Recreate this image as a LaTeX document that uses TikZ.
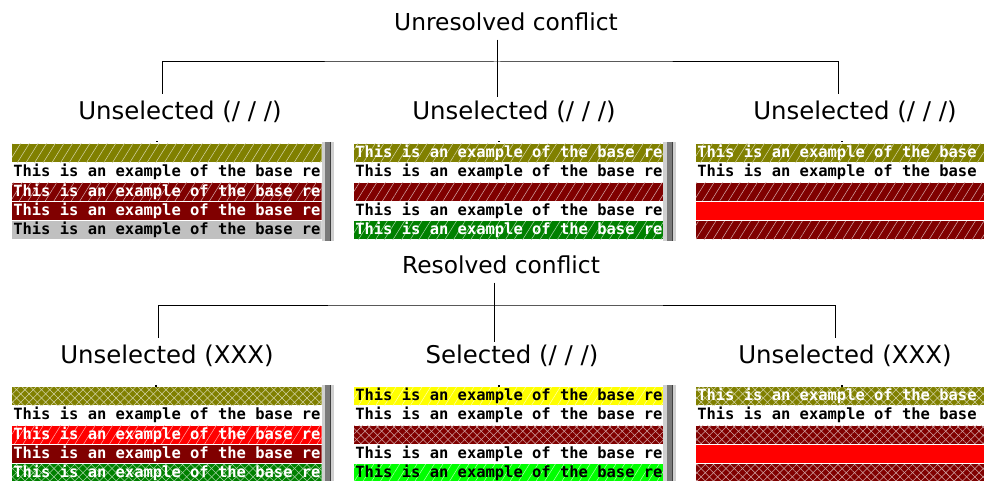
\documentclass[tikz,border=0pt]{standalone}
\usepackage{fontspec}
\setmainfont{DejaVu Sans}
\newfontfamily\rowmono{DejaVu Sans Mono}
\usetikzlibrary{patterns.meta,positioning}
\definecolor{rowolive}{HTML}{808000}
\definecolor{rowmaroon}{HTML}{800000}
\definecolor{rowgreen}{HTML}{008000}
\definecolor{rowgray}{HTML}{C0C0C0}
\definecolor{rowred}{HTML}{FF0000}
\definecolor{rowyellow}{HTML}{FFFF00}
\definecolor{rowlime}{HTML}{00FF00}
\definecolor{barlight}{HTML}{D0D0D0}
\definecolor{bardark}{HTML}{7A7A7A}
\newcommand\baserow{This is an example of the base re}
\newcommand\blankrow{}
\tikzset{
  treehead/.style={font=\fontsize{17.5}{20}\selectfont, text=black,
    inner sep=0pt, outer ysep=6.5pt},
  treelabel/.style={font=\fontsize{18.3}{21}\selectfont, text=black, inner sep=0pt},
  treeline/.style={draw=black, line width=.75pt},
  rowtext/.style={font=\rowmono\bfseries\fontsize{11.6}{13}\selectfont,
    anchor=west, inner sep=0pt},
  linesrow/.style={fill=#1, postaction={pattern={Lines[angle=58,distance=5.5pt,line width=.4pt]},
    pattern color=white!65!#1}},
  crossrow/.style={fill=#1,
    postaction={pattern={Lines[angle=45,distance=4.4pt,line width=.4pt]}, pattern color=white!65!#1},
    postaction={pattern={Lines[angle=-45,distance=4.4pt,line width=.4pt]}, pattern color=white!65!#1}},
  plainrow/.style={fill=white},
  olivelines/.style={linesrow=rowolive},
  olivecross/.style={crossrow=rowolive},
  maroonlines/.style={linesrow=rowmaroon},
  marooncross/.style={crossrow=rowmaroon},
  maroonrow/.style={fill=rowmaroon},
  grayrow/.style={fill=rowgray},
  redrow/.style={fill=rowred},
  redlines/.style={linesrow=rowred},
  greenlines/.style={linesrow=rowgreen},
  greencross/.style={crossrow=rowgreen},
  yellowlines/.style={linesrow=rowyellow},
  limelines/.style={linesrow=rowlime}
}
% one screen strip: name, left, top, right, rows
\newcommand\conflictrows[5]{%
  \begin{scope}
    \clip (#2,#3) rectangle (#4,#3+97);
    \foreach \rowfill/\rowink/\rowline [count=\r from 0] in {#5} {
      \path[\rowfill] (#2,#3+19.3*\r) rectangle (#4,#3+18+19.3*\r);
      \node[rowtext, text=\rowink] (#1\r) at (#2+1,#3+9+19.3*\r) {\rowline};
    }
  \end{scope}}
\newcommand\scrollbar[2]{%
  \fill[barlight] (#1,#2-2) rectangle ++(12.5,99);
  \fill[bardark] (#1+3.5,#2-2) rectangle ++(6,99);
  \draw[black!75, line width=.75pt] (#1+9,#2-2) -- ++(0,99);}

\begin{document}
\begin{tikzpicture}[x=.75pt,y=-.75pt]
  \useasboundingbox (0,0) rectangle (984,481);

  % unresolved conflict
  \node[treehead] (unres) at (506,22) {Unresolved conflict};
  \node[treelabel] (unsel1) at (180,112) {Unselected (/ / /)};
  \node[treelabel] (unsel2) at (514,112) {Unselected (/ / /)};
  \node[treelabel] (unsel3) at (855,112) {Unselected (/ / /)};
  \coordinate (unbar) at (497,62);
  \coordinate (unend1) at (162,94);
  \coordinate (unend2) at (497,97);
  \coordinate (unend3) at (838,94);
  \draw[treeline] (unres.south -| unend2) -- (unend2);
  \draw[treeline] (unend1) |- (unbar) -| (unend3);

  \conflictrows{ua}{12}{144}{321.5}{olivelines/white/\blankrow, plainrow/black/\baserow,
    maroonlines/white/\baserow, maroonrow/white/\baserow, grayrow/black/\baserow}
  \conflictrows{ub}{354}{144}{663}{olivelines/white/\baserow, plainrow/black/\baserow,
    maroonlines/white/\blankrow, plainrow/black/\baserow, greenlines/white/\baserow}
  \conflictrows{uc}{696}{144}{984}{olivelines/white/\baserow, plainrow/black/\baserow,
    maroonlines/white/\blankrow, redrow/white/\blankrow, maroonlines/white/\blankrow}
  \scrollbar{321.5}{144}
  \scrollbar{663}{144}
  \foreach \x in {157,499,842} \fill (\x-1,141) rectangle ++(2,1.5);

  % resolved conflict
  \node[treehead] (res) at (501,265) {Resolved conflict};
  \node[treelabel] (sel1) at (167,356) {Unselected (XXX)};
  \node[treelabel] (sel2) at (512,356) {Selected (/ / /)};
  \node[treelabel] (sel3) at (845,356) {Unselected (XXX)};
  \coordinate (rebar) at (494,305);
  \coordinate (reend1) at (158,338);
  \coordinate (reend2) at (494,342);
  \coordinate (reend3) at (835,338);
  \draw[treeline] (res.south -| reend2) -- (reend2);
  \draw[treeline] (reend1) |- (rebar) -| (reend3);

  \conflictrows{ra}{12}{387}{321.5}{olivecross/white/\blankrow, plainrow/black/\baserow,
    redlines/white/\baserow, maroonrow/white/\baserow, greencross/white/\baserow}
  \conflictrows{rb}{354}{387}{663}{yellowlines/black/\baserow, plainrow/black/\baserow,
    marooncross/white/\blankrow, plainrow/black/\baserow, limelines/black/\baserow}
  \conflictrows{rc}{696}{387}{984}{olivecross/white/\baserow, plainrow/black/\baserow,
    marooncross/white/\blankrow, redrow/white/\blankrow, marooncross/white/\blankrow}
  \scrollbar{321.5}{387}
  \scrollbar{663}{387}
  \foreach \x in {156,499,842} \fill (\x-1,385) rectangle ++(2,1.5);
\end{tikzpicture}
\end{document}
